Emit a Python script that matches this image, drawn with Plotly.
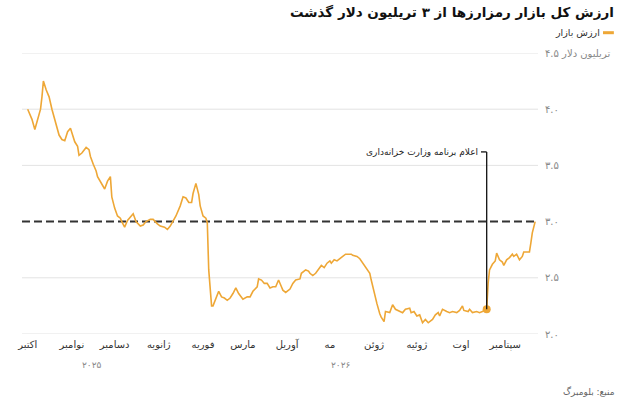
import plotly.graph_objects as go

# ---------------- data ----------------
dates = [
    "2025-10-01","2025-10-04","2025-10-06","2025-10-08","2025-10-10","2025-10-11","2025-10-12","2025-10-14","2025-10-16",
    "2025-10-18","2025-10-20","2025-10-22","2025-10-23","2025-10-25","2025-10-27","2025-10-29","2025-10-31",
    "2025-11-01","2025-11-03","2025-11-05","2025-11-06","2025-11-08","2025-11-10","2025-11-11","2025-11-13","2025-11-14",
    "2025-11-16","2025-11-18","2025-11-19","2025-11-21","2025-11-22","2025-11-24","2025-11-26","2025-11-28","2025-11-29",
    "2025-12-01","2025-12-03","2025-12-05","2025-12-06","2025-12-08","2025-12-10","2025-12-14","2025-12-16","2025-12-19",
    "2025-12-21","2025-12-23","2025-12-26","2025-12-28","2025-12-31",
    "2026-01-02","2026-01-05","2026-01-07","2026-01-09","2026-01-12","2026-01-13","2026-01-16","2026-01-18","2026-01-20",
    "2026-01-22","2026-01-24","2026-01-25","2026-01-27","2026-01-29","2026-01-30",
    "2026-02-01","2026-02-03","2026-02-04","2026-02-05","2026-02-07","2026-02-08","2026-02-10","2026-02-12","2026-02-14",
    "2026-02-16","2026-02-18","2026-02-20","2026-02-22","2026-02-24","2026-02-26",
    "2026-03-01","2026-03-04","2026-03-06","2026-03-08","2026-03-11","2026-03-12","2026-03-14","2026-03-16","2026-03-18",
    "2026-03-20","2026-03-22","2026-03-24","2026-03-26","2026-03-28","2026-03-29","2026-03-31",
    "2026-04-03","2026-04-05","2026-04-07","2026-04-10","2026-04-11","2026-04-14","2026-04-16","2026-04-17","2026-04-19",
    "2026-04-21","2026-04-23","2026-04-25","2026-04-27","2026-04-29",
    "2026-05-01","2026-05-02","2026-05-04","2026-05-06","2026-05-08","2026-05-10","2026-05-12","2026-05-13","2026-05-16",
    "2026-05-17","2026-05-20","2026-05-22","2026-05-24","2026-05-26","2026-05-29","2026-05-30",
    "2026-06-01","2026-06-03","2026-06-05","2026-06-06","2026-06-08","2026-06-09","2026-06-12","2026-06-14","2026-06-16",
    "2026-06-19","2026-06-21","2026-06-23","2026-06-26","2026-06-27","2026-06-29",
    "2026-07-01","2026-07-03","2026-07-05","2026-07-07","2026-07-09","2026-07-12","2026-07-14","2026-07-16","2026-07-17",
    "2026-07-19","2026-07-22","2026-07-24","2026-07-26","2026-07-29","2026-07-31",
    "2026-08-02","2026-08-03","2026-08-06","2026-08-07","2026-08-09","2026-08-12","2026-08-14","2026-08-16","2026-08-19",
    "2026-08-20","2026-08-21","2026-08-23","2026-08-25","2026-08-26","2026-08-28","2026-08-30","2026-08-31",
    "2026-09-02","2026-09-04","2026-09-06","2026-09-07","2026-09-09","2026-09-11","2026-09-13","2026-09-14","2026-09-16",
    "2026-09-18","2026-09-19","2026-09-20","2026-09-22",
]

market_cap = [
    4.00,3.91,3.82,3.91,4.00,4.11,4.25,4.17,4.11,4.00,3.91,3.83,3.77,3.73,3.72,3.80,3.83,
    3.79,3.71,3.67,3.59,3.61,3.64,3.66,3.64,3.58,3.51,3.45,3.40,3.36,3.33,3.29,3.36,3.40,3.22,
    3.12,3.05,3.03,3.00,2.95,3.01,3.07,3.00,2.96,2.97,3.00,3.02,3.02,2.98,
    2.96,2.95,2.93,2.96,3.02,3.05,3.14,3.22,3.21,3.17,3.17,3.25,3.34,3.24,3.14,
    3.05,3.03,2.99,2.57,2.25,2.25,2.32,2.38,2.33,2.32,2.30,2.32,2.36,2.41,2.36,
    2.31,2.33,2.33,2.38,2.42,2.49,2.48,2.45,2.45,2.41,2.42,2.42,2.48,2.42,2.39,2.37,
    2.40,2.45,2.48,2.49,2.54,2.57,2.56,2.54,2.52,2.54,2.57,2.61,2.59,2.63,
    2.65,2.63,2.66,2.65,2.67,2.69,2.71,2.71,2.71,2.70,2.69,2.67,2.63,2.60,2.54,2.48,
    2.36,2.27,2.18,2.15,2.11,2.20,2.19,2.26,2.22,2.20,2.19,2.22,2.23,2.19,2.20,
    2.16,2.17,2.10,2.13,2.10,2.13,2.17,2.19,2.16,2.22,2.20,2.19,2.20,2.19,2.21,
    2.25,2.21,2.20,2.22,2.19,2.20,2.19,2.20,2.22,2.45,2.57,2.62,2.65,2.72,2.66,2.64,2.61,
    2.66,2.68,2.71,2.69,2.71,2.66,2.69,2.73,2.73,2.73,2.81,2.90,3.00,
]

month_ticks = ["2025-10-01","2025-11-01","2025-12-01","2026-01-01","2026-02-01","2026-03-01",
               "2026-04-01","2026-05-01","2026-06-01","2026-07-01","2026-08-01","2026-09-01"]
month_labels = ["اکتبر","نوامبر","دسامبر","ژانویه","فوریه","مارس",
                "آوریل","مه","ژوئن","ژوئیه","اوت","سپتامبر"]

year_positions = ["2025-11-15", "2026-05-09"]
year_labels = ["۲۰۲۵", "۲۰۲۶"]

y_ticks = [2.0, 2.5, 3.0, 3.5, 4.0, 4.5]
y_labels = ["۲.۰", "۲.۵", "۳.۰", "۳.۵", "۴.۰", "۴.۵ تریلیون دلار"]

threshold = 3.0
event_date = "2026-08-19"
event_label = "اعلام برنامه وزارت خزانه‌داری"
event_value = market_cap[dates.index(event_date)]

title = "ارزش کل بازار رمزارزها از ۳ تریلیون دلار گذشت"
series_name = "ارزش بازار"
source = "منبع: بلومبرگ"

ORANGE = "#EEA736"
FONT = "DejaVu Sans, sans-serif"

# ---------------- figure ----------------
fig = go.Figure()

fig.add_trace(go.Scatter(
    x=dates, y=market_cap, mode="lines", name=series_name,
    line=dict(color=ORANGE, width=1.6), showlegend=False, hoverinfo="skip",
))

# light gridlines (skip the threshold level, drawn dashed instead)
for yv in y_ticks:
    if yv != threshold:
        fig.add_shape(type="line", xref="paper", yref="y", x0=0, x1=1, y0=yv, y1=yv,
                      line=dict(color="#e3e3e3", width=1), layer="below")

# threshold dashed line
fig.add_shape(type="line", xref="paper", yref="y", x0=0, x1=1, y0=threshold, y1=threshold,
              line=dict(color="#333333", width=2, dash="8px,4px"), layer="below")

# event callout
callout_top = 3.62
fig.add_shape(type="line", xref="x", yref="y", x0=event_date, x1=event_date,
              y0=event_value, y1=callout_top, line=dict(color="#111111", width=1.3))
fig.add_shape(type="line", xref="x", yref="y", x0="2026-08-15", x1=event_date,
              y0=callout_top, y1=callout_top, line=dict(color="#111111", width=1.3))
fig.add_annotation(x="2026-08-14", y=callout_top, xref="x", yref="y", text=event_label,
                   showarrow=False, xanchor="right", yanchor="middle",
                   font=dict(family=FONT, size=9, color="#222222"))

fig.add_trace(go.Scatter(
    x=[event_date], y=[event_value], mode="markers",
    marker=dict(color=ORANGE, size=8), showlegend=False, hoverinfo="skip",
))

# year labels
for pos, lab in zip(year_positions, year_labels):
    fig.add_annotation(x=pos, y=-0.109, xref="x", yref="paper", text=lab, showarrow=False,
                       xanchor="center", yanchor="middle",
                       font=dict(family=FONT, size=9, color="#888888"))

# title
fig.add_annotation(xref="paper", yref="paper", x=1.151, y=1.147, text="<b>" + title + "</b>",
                   showarrow=False, xanchor="right", yanchor="middle",
                   font=dict(family=FONT, size=13.5, color="#111111"))

# legend (manual, RTL)
fig.add_shape(type="rect", xref="paper", yref="paper", x0=1.126, x1=1.147, y0=1.0776, y1=1.0669,
              fillcolor=ORANGE, line=dict(width=0))
fig.add_annotation(xref="paper", yref="paper", x=1.124, y=1.072, text=series_name, showarrow=False,
                   xanchor="right", yanchor="middle", font=dict(family=FONT, size=9.5, color="#333333"))

# source
fig.add_annotation(xref="paper", yref="paper", x=1.153, y=-0.205, text=source, showarrow=False,
                   xanchor="right", yanchor="middle", font=dict(family=FONT, size=9, color="#666666"))

fig.update_layout(
    width=640, height=400,
    margin=dict(l=22, r=102, t=53.3, b=65.7, autoexpand=False),
    paper_bgcolor="white", plot_bgcolor="white",
    font=dict(family=FONT),
    xaxis=dict(
        type="date", range=["2025-09-27", "2026-09-24"],
        tickvals=month_ticks, ticktext=month_labels,
        showgrid=False, zeroline=False, showline=False, ticks="",
        ticklabelstandoff=3,
        tickfont=dict(family=FONT, size=10, color="#333333"),
    ),
    yaxis=dict(
        side="right", range=[2.0, 4.5],
        tickvals=y_ticks, ticktext=y_labels,
        showgrid=False, zeroline=False, showline=False, ticks="",
        ticklabelstandoff=6,
        tickfont=dict(family=FONT, size=10, color="#888888"),
    ),
)

fig.write_html("out.html", config={"displayModeBar": False},
               post_script="document.body.style.margin='0';document.body.style.overflow='hidden';")
